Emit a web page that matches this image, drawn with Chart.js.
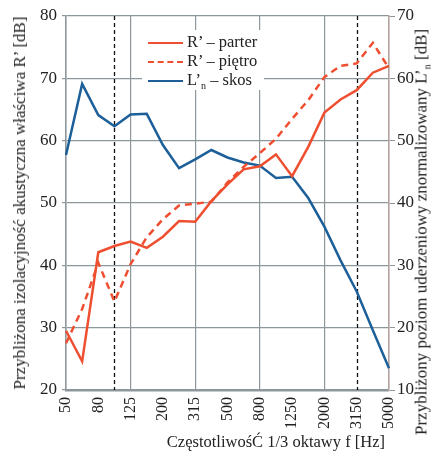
<!DOCTYPE html>
<html>
<head>
<meta charset="utf-8">
<script src="https://cdn.jsdelivr.net/npm/chart.js@4/dist/chart.umd.min.js"></script>
<style>
  body { margin: 0; background: #fff; }
  #wrap { position: relative; width: 433px; height: 453px; font-family: "Liberation Serif", serif; color: #222; }
  .vtitle { position: absolute; white-space: nowrap; font-size: 17px; transform: translate(-50%, -50%) rotate(-90deg); }
  .vtitle sub, .legend sub { font-size: 10px; vertical-align: -4px; }
  #xtitle { position: absolute; right: 48px; top: 432px; font-size: 16.5px; white-space: nowrap; }
  .legend { position: absolute; left: 142px; top: 30px; width: 122px; height: 60px; background: #fff; font-size: 16.5px; }
  .legend .row { position: absolute; left: 6px; height: 19px; line-height: 19px; }
  .legend .sample { display: inline-block; width: 35px; height: 0; vertical-align: middle; margin-right: 4px; }
</style>
</head>
<body>
<div id="wrap">
  <canvas id="chart"></canvas>
  <div class="vtitle" style="left:20px; top:203px;">Przybliżona izolacyjność akustyczna właściwa R’ [dB]</div>
  <div class="vtitle" style="left:422px; top:232px;">Przybliżony poziom uderzeniowy znormalizowany L’<sub>n</sub> [dB]</div>
  <div id="xtitle">CzęstotliwośĆ 1/3 oktawy f [Hz]</div>
  <div class="legend">
    <div class="row" style="top:2px;"><span class="sample" style="border-top:2.5px solid #ef4f31;"></span>R’ – parter</div>
    <div class="row" style="top:21px;"><span class="sample" style="border-top:2.5px dashed #ef4f31;"></span>R’ – piętro</div>
    <div class="row" style="top:40px;"><span class="sample" style="border-top:2.5px solid #1d5f98;"></span>L’<sub>n</sub> – skos</div>
  </div>
</div>
<script>
const freqs = ['50', '63', '80', '100', '125', '160', '200', '250', '315', '400', '500',
  '630', '800', '1000', '1250', '1600', '2000', '2500', '3150', '4000', '5000'];
const rParter = [29.5, 24.6, 42.1, 43.1, 43.8, 42.8, 44.6, 47.1, 47.0, 50.3, 53.0,
  55.4, 55.9, 57.8, 54.3, 59.0, 64.5, 66.6, 68.1, 70.9, 72.0];
const rPietro = [27.5, 33.0, 40.4, 34.2, 40.2, 44.5, 47.4, 49.6, 49.9, 50.2, 53.3,
  55.8, 58.0, 60.3, 63.5, 66.5, 70.2, 72.0, 72.4, 75.7, 71.6];
const lnSkos = [47.7, 59.1, 54.1, 52.3, 54.2, 54.3, 49.3, 45.6, 47.0, 48.5, 47.3,
  46.5, 46.0, 44.0, 44.2, 40.8, 36.2, 30.8, 25.8, 19.6, 13.5];
const markerFreqs = ['100', '3150'];

const RED = '#ef4f31';
const BLUE = '#1d5f98';
const GRID = '#8d979b';

Chart.defaults.font.family = '"Liberation Serif", serif';
Chart.defaults.color = '#222';

// black dashed verticals at the marked frequencies
const markerLines = {
  id: 'markerLines',
  beforeDatasetsDraw(chart) {
    const { ctx, chartArea, scales } = chart;
    ctx.save();
    ctx.strokeStyle = '#111';
    ctx.lineWidth = 1.3;
    ctx.setLineDash([4, 3]);
    markerFreqs.forEach(f => {
      const x = Math.round(scales.x.getPixelForValue(freqs.indexOf(f))) + 0.5;
      ctx.beginPath();
      ctx.moveTo(x, chartArea.top);
      ctx.lineTo(x, chartArea.bottom);
      ctx.stroke();
    });
    ctx.restore();
  }
};

new Chart(document.getElementById('chart'), {
  type: 'line',
  data: {
    labels: freqs,
    datasets: [
      { label: 'R’ – parter', data: rParter, yAxisID: 'y', borderColor: RED, borderWidth: 2.5 },
      { label: 'R’ – piętro', data: rPietro, yAxisID: 'y', borderColor: RED, borderWidth: 2.5, borderDash: [7, 5] },
      { label: 'L’n – skos', data: lnSkos, yAxisID: 'y2', borderColor: BLUE, borderWidth: 2.5 }
    ]
  },
  options: {
    responsive: true,
    maintainAspectRatio: false,
    animation: false,
    elements: { point: { radius: 0 }, line: { tension: 0 } },
    layout: { padding: { top: 16, left: 0, right: 0, bottom: 0 } },
    plugins: { legend: { display: false }, tooltip: { enabled: false } },
    scales: {
      x: {
        offset: false,
        afterFit: s => { s.height = 63; },
        grid: {
          color: c => (c.index % 4 === 0 ? GRID : 'rgba(0,0,0,0)'),
          lineWidth: 1.2,
          drawTicks: false
        },
        border: { color: GRID, width: 2.5 },
        ticks: {
          autoSkip: false,
          minRotation: 90,
          maxRotation: 90,
          padding: 7,
          font: { size: 16 },
          callback: (v, i) => (i % 2 === 0 ? freqs[i] : '')
        }
      },
      y: {
        position: 'left',
        min: 20,
        max: 80,
        afterFit: s => { s.width = 66; },
        grid: { color: GRID, lineWidth: 1.2, tickLength: 4 },
        border: { color: GRID, width: 1.5 },
        ticks: { stepSize: 10, padding: 5, font: { size: 17 } }
      },
      y2: {
        position: 'right',
        min: 10,
        max: 70,
        afterFit: s => { s.width = 44; },
        grid: { drawOnChartArea: false, color: GRID, tickLength: 6 },
        border: { color: '#b4a3a0', width: 1.5 },
        ticks: { stepSize: 10, padding: 2, font: { size: 17 } }
      }
    }
  },
  plugins: [markerLines]
});
</script>
</body>
</html>
